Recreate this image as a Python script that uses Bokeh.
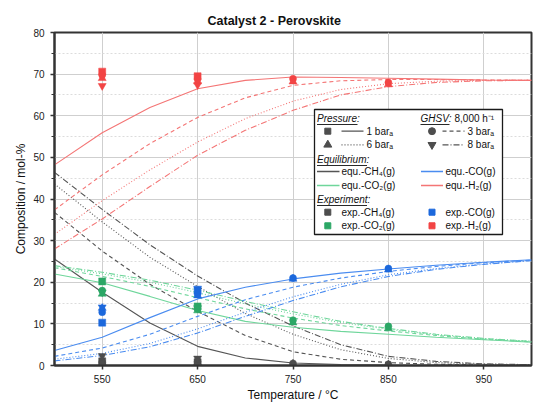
from bokeh.plotting import figure
from bokeh.models import Range1d, FixedTicker, Label
from bokeh.embed import file_html
from bokeh.resources import INLINE

# ---------------- data ----------------
T_eq = [500, 550, 600, 650, 700, 750, 800, 850, 900, 950, 1000]

# equilibrium H2
h2_1 = [48.2, 55.9, 62.0, 66.5, 68.5, 69.3, 69.2, 69.0, 68.8, 68.6, 68.5]
h2_3 = [37.4, 45.8, 53.3, 59.6, 64.3, 67.3, 68.4, 68.7, 68.7, 68.6, 68.5]
h2_6 = [31.5, 39.6, 47.0, 53.7, 59.3, 63.5, 66.3, 67.7, 68.3, 68.5, 68.5]
h2_8 = [28.0, 35.2, 43.0, 50.5, 56.5, 61.3, 65.0, 67.0, 68.0, 68.4, 68.5]
# equilibrium CH4
ch4_1 = [25.6, 17.6, 10.2, 4.6, 1.8, 0.6, 0.25, 0.1, 0.05, 0.02, 0.0]
ch4_3 = [36.8, 27.5, 19.5, 13.0, 7.2, 3.3, 1.5, 0.7, 0.3, 0.15, 0.1]
ch4_6 = [43.6, 34.5, 26.0, 19.0, 12.5, 7.5, 3.8, 1.7, 0.7, 0.3, 0.2]
ch4_8 = [46.4, 37.5, 29.0, 21.5, 15.0, 9.5, 5.0, 2.2, 1.0, 0.4, 0.2]
# equilibrium CO
co_1 = [3.6, 6.8, 11.5, 16.0, 18.8, 20.8, 22.2, 23.2, 24.1, 24.8, 25.4]
co_3 = [2.2, 4.2, 7.5, 11.8, 15.8, 18.8, 21.0, 22.6, 23.8, 24.7, 25.3]
co_6 = [1.5, 2.9, 5.3, 8.8, 12.8, 16.5, 19.5, 21.8, 23.3, 24.4, 25.2]
co_8 = [1.1, 2.4, 4.5, 7.8, 11.8, 15.6, 18.9, 21.4, 23.1, 24.3, 25.2]
# equilibrium CO2
co2_1 = [22.0, 19.9, 16.6, 13.2, 10.6, 9.2, 8.2, 7.5, 6.8, 6.2, 5.6]
co2_3 = [23.5, 21.4, 19.0, 16.3, 13.6, 11.4, 9.6, 8.3, 7.2, 6.3, 5.7]
co2_6 = [23.8, 22.0, 20.0, 17.5, 14.8, 12.4, 10.3, 8.7, 7.4, 6.4, 5.8]
co2_8 = [24.0, 22.4, 20.5, 18.1, 15.4, 12.9, 10.6, 8.9, 7.5, 6.5, 5.8]

# experiments
T_exp_1 = [550, 650]
ch4_exp_1 = [1.0, 0.8]
co_exp_1 = [10.3, 18.0]
co2_exp_1 = [20.2, 14.2]
h2_exp_1 = [70.6, 69.5]

T_exp_3 = [550, 650, 750, 850]
ch4_exp_3 = [0.8, 0.9, 0.5, 0.3]
co_exp_3 = [12.8, 17.2, 21.0, 23.3]
co2_exp_3 = [18.0, 13.6, 10.9, 9.4]
h2_exp_3 = [69.8, 68.8, 68.9, 68.0]

T_exp_6 = [550, 650, 750, 850]
ch4_exp_6 = [0.6, 0.7, 0.4, 0.2]
co_exp_6 = [13.8, 16.8, 20.8, 23.0]
co2_exp_6 = [17.2, 13.2, 10.3, 8.9]
h2_exp_6 = [69.0, 68.2, 68.2, 67.5]

T_exp_8 = [550, 650]
ch4_exp_8 = [2.3, 1.7]
co_exp_8 = [14.0, 18.5]
co2_exp_8 = [17.6, 13.8]
h2_exp_8 = [67.2, 67.4]

x_ticks = [550, 650, 750, 850, 950]
y_ticks = [0, 10, 20, 30, 40, 50, 60, 70, 80]
y_minor = [5, 15, 25, 35, 45, 55, 65, 75]

# ---------------- style ----------------
FONT = "Liberation Sans"
W, H = 535, 405
FL, FR, FT, FB = 54, 531, 32, 365
X0, X1, Y0, Y1 = 500, 1000, 0, 80

C_GRAY_L, C_BLUE_L, C_GREEN_L, C_RED_L = "#555555", "#4a8cf0", "#6fd69b", "#f47575"
C_GRAY_M, C_BLUE_M, C_GREEN_M, C_RED_M = "#4d4d4d", "#1c68dc", "#2ca766", "#f24444"
DASHES = {1: "solid", 3: "4 3", 6: "1 2", 8: "6 2 1 2"}
MARKERS = {1: "square", 3: "circle", 6: "triangle", 8: "inverted_triangle"}
MSIZE = {1: 7, 3: 7, 6: 8, 8: 8}

p = figure(width=W, height=H, output_backend="svg", toolbar_location=None,
           x_range=Range1d(X0, X1), y_range=Range1d(Y0, Y1),
           min_border_left=FL, min_border_right=W - FR,
           min_border_top=FT, min_border_bottom=H - FB)
p.background_fill_color = "white"
p.border_fill_color = "white"
p.outline_line_color = "#333333"
p.outline_line_width = 2

p.title.text = "Catalyst 2 - Perovskite"
p.title.text_font = FONT
p.title.text_font_size = "12.5px"
p.title.text_font_style = "bold"
p.title.text_color = "#111111"
p.title.align = "left"
p.title.offset = 153

for ax in (p.xaxis[0], p.yaxis[0]):
    ax.axis_line_color = "#333333"
    ax.axis_line_width = 2
    ax.major_tick_line_color = "#333333"
    ax.major_tick_line_width = 1.5
    ax.minor_tick_line_color = "#333333"
    ax.major_tick_in = 0
    ax.major_tick_out = 4
    ax.minor_tick_in = 0
    ax.minor_tick_out = 3
    ax.major_label_text_font = FONT
    ax.major_label_text_font_size = "10px"
    ax.major_label_text_color = "#222222"
    ax.major_label_standoff = 6
    ax.axis_label_text_font = FONT
    ax.axis_label_text_font_size = "12px"
    ax.axis_label_text_font_style = "normal"
    ax.axis_label_text_color = "#111111"
    ax.axis_label_standoff = 2

p.xaxis.major_label_standoff = 5
p.xaxis.ticker = FixedTicker(ticks=x_ticks)
p.xaxis.minor_tick_line_color = None
p.yaxis.ticker = FixedTicker(ticks=y_ticks, minor_ticks=y_minor)
p.xaxis.axis_label = "Temperature / °C"
p.yaxis.axis_label = "Composition / mol-%"

p.xgrid.grid_line_color = "#cfcfcf"
p.ygrid.grid_line_color = "#cfcfcf"
p.ygrid.minor_grid_line_color = "#dcdcdc"
p.ygrid.minor_grid_line_dash = "2 2"


def dx(px):
    return X0 + (px - FL) * (X1 - X0) / (FR - FL)


def dy(py):
    return Y1 - (py - FT) * (Y1 - Y0) / (FB - FT)


# ---------------- equilibrium lines ----------------
eq = [
    (ch4_1, ch4_3, ch4_6, ch4_8, C_GRAY_L),
    (co2_1, co2_3, co2_6, co2_8, C_GREEN_L),
    (co_1, co_3, co_6, co_8, C_BLUE_L),
    (h2_1, h2_3, h2_6, h2_8, C_RED_L),
]
for s1, s3, s6, s8, col in eq:
    for bar, ser in ((1, s1), (3, s3), (6, s6), (8, s8)):
        p.line(T_eq, ser, line_color=col, line_width=1.1, line_dash=DASHES[bar])

# ---------------- experiment markers ----------------
exps = [
    (1, T_exp_1, ch4_exp_1, co_exp_1, co2_exp_1, h2_exp_1),
    (3, T_exp_3, ch4_exp_3, co_exp_3, co2_exp_3, h2_exp_3),
    (6, T_exp_6, ch4_exp_6, co_exp_6, co2_exp_6, h2_exp_6),
    (8, T_exp_8, ch4_exp_8, co_exp_8, co2_exp_8, h2_exp_8),
]
for bar, tt, a, b, c, d in exps:
    for ser, col in ((a, C_GRAY_M), (b, C_BLUE_M), (c, C_GREEN_M), (d, C_RED_M)):
        p.scatter(tt, ser, marker=MARKERS[bar], size=MSIZE[bar], fill_color=col,
                  line_color=col, line_width=0.5)

# ---------------- legend (drawn manually) ----------------
p.quad(left=[dx(314)], right=[dx(502)], top=[dy(109)], bottom=[dy(234)],
       fill_color="white", line_color="#1a1a1a", line_width=1.3)


def text(px, py, s, style="normal", size="10px"):
    p.add_layout(Label(x=dx(px), y=dy(py), text=s, text_font=FONT, text_font_size=size,
                       text_font_style=style, text_baseline="middle", text_align="left",
                       text_color="#111111"))


def underline(px0, px1, py):
    p.segment(x0=[dx(px0)], y0=[dy(py)], x1=[dx(px1)], y1=[dy(py)], line_color="#111111", line_width=0.9)


def sample(px0, px1, py, col, dash="solid"):
    p.segment(x0=[dx(px0)], y0=[dy(py)], x1=[dx(px1)], y1=[dy(py)], line_color=col,
              line_width=1.3, line_dash=dash)


def mark(px, py, m, col, size=7):
    p.scatter([dx(px)], [dy(py)], marker=m, size=size, fill_color=col, line_color=col)


# headings
text(316.5, 118.3, "Pressure:", "italic")
underline(316.5, 357, 124)
text(420, 118.3, "GHSV:", "italic")
underline(420, 449, 124)
text(454, 118.3, "8,000 h⁻¹")
# pressure rows
mark(327.3, 130.7, "square", C_GRAY_M, 6)
sample(341, 363, 130.7, C_GRAY_L, DASHES[1])
text(366, 130.7, "1 barₐ")
mark(431.5, 130.7, "circle", C_GRAY_M, 7)
sample(442, 464, 130.7, C_GRAY_L, DASHES[3])
text(467, 130.7, "3 barₐ")
mark(327.3, 144.3, "triangle", C_GRAY_M, 8)
sample(341, 363, 144.3, C_GRAY_L, DASHES[6])
text(366, 144.3, "6 barₐ")
mark(431.5, 144.3, "inverted_triangle", C_GRAY_M, 8)
sample(442, 464, 144.3, C_GRAY_L, DASHES[8])
text(467, 144.3, "8 barₐ")
# equilibrium
text(316.5, 159.3, "Equilibrium:", "italic")
underline(316.5, 366.5, 165)
sample(316.5, 339, 171, C_GRAY_L)
text(341, 171, "equ.-CH₄(g)")
sample(420.5, 442.5, 171, C_BLUE_L)
text(445, 171, "equ.-CO(g)")
sample(316.5, 339, 185, C_GREEN_L)
text(341, 185, "equ.-CO₂(g)")
sample(420.5, 442.5, 185, C_RED_L)
text(445, 185, "equ.-H₂(g)")
# experiment
text(316.5, 199.3, "Experiment:", "italic")
underline(316.5, 366.5, 205)
mark(327.3, 211.7, "square", C_GRAY_M, 6)
text(341, 211.7, "exp.-CH₄(g)")
mark(431.5, 211.7, "square", C_BLUE_M, 6)
text(445, 211.7, "exp.-CO(g)")
mark(327.3, 225.3, "square", C_GREEN_M, 6)
text(341, 225.3, "exp.-CO₂(g)")
mark(431.5, 225.3, "square", C_RED_M, 6)
text(445, 225.3, "exp.-H₂(g)")

open("out.html", "w").write(file_html(p, INLINE))
